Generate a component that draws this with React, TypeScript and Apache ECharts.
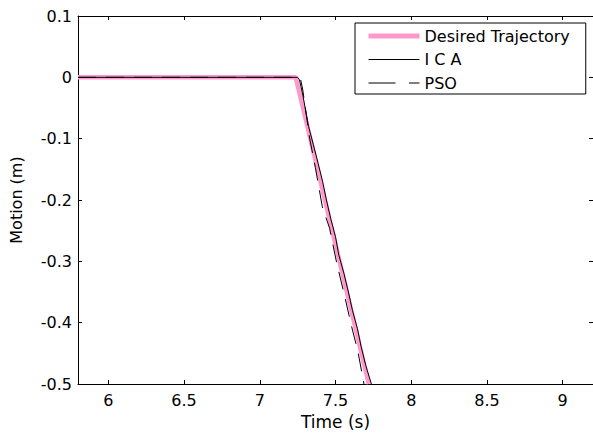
import React, { useEffect, useRef } from "react";
import * as echarts from "echarts";

const xTicks = [6, 6.5, 7, 7.5, 8, 8.5, 9];

const desiredT = [5.8, 7.237, 7.72];
const desiredV = [0, 0, -0.5];

const icaT = [5.8, 7.25, 7.262, 7.272, 7.285, 7.3, 7.322, 7.354, 7.385, 7.415, 7.44, 7.468, 7.5, 7.522, 7.556, 7.585, 7.612, 7.645, 7.67, 7.7, 7.737];
const icaV = [0, 0, -0.004, -0.015, -0.03, -0.05, -0.08, -0.11, -0.14, -0.17, -0.2, -0.23, -0.26, -0.29, -0.32, -0.35, -0.38, -0.41, -0.44, -0.47, -0.5];

const psoT = [5.8, 7.257, 7.27, 7.283, 7.306, 7.329, 7.367, 7.413, 7.461, 7.479, 7.509, 7.56, 7.604, 7.648, 7.688];
const psoV = [0, 0, -0.004, -0.019, -0.059, -0.099, -0.147, -0.211, -0.246, -0.268, -0.304, -0.356, -0.404, -0.447, -0.5];

const seriesNames = ["Desired Trajectory", "I C A", "PSO"];

const zip = (t: number[], v: number[]) => t.map((x, i) => [x, v[i]]);

export default function App() {
  const ref = useRef<HTMLDivElement>(null);
  useEffect(() => {
    document.body.style.margin = "0";
    const chart = echarts.init(ref.current!, null, { renderer: "svg" });
    const font = "DejaVu Sans";
    const black = "#000";
    const pink = "#ff99cc";
    const axisLine = { show: true, onZero: false, lineStyle: { color: black, width: 1 } };
    chart.setOption({
      animation: false,
      backgroundColor: "#fff",
      textStyle: { fontFamily: font, color: black },
      grid: { left: 77, top: 16, width: 517, height: 375, containLabel: false },
      legend: {
        orient: "vertical",
        left: 355,
        top: 23,
        itemWidth: 51,
        itemHeight: 14,
        itemGap: 7.5,
        padding: [5, 16, 3, 11],
        borderColor: black,
        borderWidth: 1,
        borderRadius: 0,
        backgroundColor: "#fff",
        itemStyle: { opacity: 0 },
        textStyle: { fontFamily: font, fontSize: 16, color: black },
        data: [
          { name: seriesNames[0], lineStyle: { color: pink, width: 5 } },
          { name: seriesNames[1], lineStyle: { color: black, width: 1 } },
          { name: seriesNames[2], lineStyle: { color: black, width: 1, type: [27, 13.5] } },
        ],
      },
      xAxis: [
        {
          type: "value",
          position: "bottom",
          min: 5.8,
          max: 9.2,
          name: "Time (s)",
          nameLocation: "middle",
          nameGap: 29,
          nameTextStyle: { fontFamily: font, fontSize: 17, color: black },
          axisLine,
          axisTick: { show: true, inside: true, length: 4, customValues: xTicks, lineStyle: { color: black } },
          axisLabel: { customValues: xTicks, color: black, fontSize: 16, margin: 8, fontFamily: font },
          splitLine: { show: false },
        },
        {
          type: "value",
          position: "top",
          min: 5.8,
          max: 9.2,
          axisLine,
          axisTick: { show: true, inside: true, length: 4, customValues: xTicks, lineStyle: { color: black } },
          axisLabel: { show: false },
          splitLine: { show: false },
        },
      ],
      yAxis: [
        {
          type: "value",
          position: "left",
          min: -0.5,
          max: 0.1,
          interval: 0.1,
          name: "Motion (m)",
          nameLocation: "middle",
          nameGap: 54,
          nameTextStyle: { fontFamily: font, fontSize: 16, color: black },
          axisLine,
          axisTick: { show: true, inside: true, length: 4, lineStyle: { color: black } },
          axisLabel: { color: black, fontSize: 16, margin: 6, fontFamily: font },
          splitLine: { show: false },
        },
        {
          type: "value",
          position: "right",
          min: -0.5,
          max: 0.1,
          interval: 0.1,
          axisLine,
          axisTick: { show: true, inside: true, length: 4, lineStyle: { color: black } },
          axisLabel: { show: false },
          splitLine: { show: false },
        },
      ],
      series: [
        {
          name: seriesNames[0],
          type: "line",
          data: zip(desiredT, desiredV),
          showSymbol: false,
          symbol: "none",
          clip: true,
          z: 1,
          lineStyle: { color: pink, width: 4.5 },
          itemStyle: { color: pink },
        },
        {
          name: seriesNames[1],
          type: "line",
          data: zip(icaT, icaV),
          showSymbol: false,
          symbol: "none",
          clip: true,
          z: 3,
          lineStyle: { color: black, width: 1 },
          itemStyle: { color: black },
        },
        {
          name: seriesNames[2],
          type: "line",
          data: zip(psoT, psoV),
          showSymbol: false,
          symbol: "none",
          clip: true,
          z: 2,
          lineStyle: { color: black, width: 1, type: [18, 10] },
          itemStyle: { color: black },
        },
      ],
    });
    return () => chart.dispose();
  }, []);
  return <div ref={ref} style={{ width: 593, height: 435 }} />;
}
